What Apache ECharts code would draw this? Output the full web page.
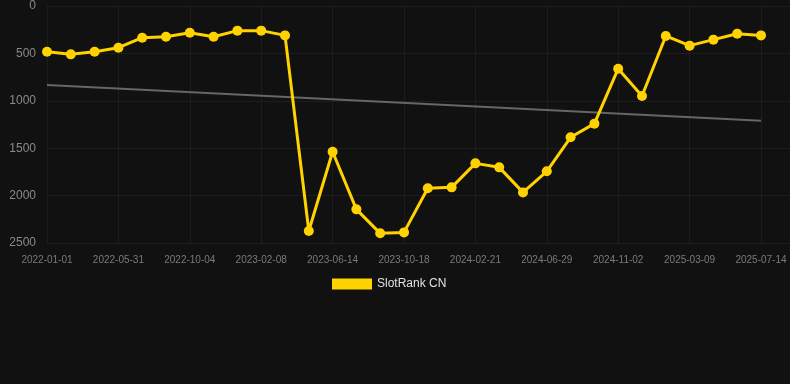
<!DOCTYPE html>
<html>
<head>
<meta charset="utf-8">
<script src="https://cdn.jsdelivr.net/npm/echarts@6/dist/echarts.min.js"></script>
<style>
  html, body { margin: 0; padding: 0; background: #111111; }
  #chart { width: 790px; height: 384px; }
</style>
</head>
<body>
<div id="chart"></div>
<script>
const dates = [
  '2022-01-01', '2022-03-08', '2022-04-19', '2022-05-31', '2022-07-12', '2022-08-23',
  '2022-10-04', '2022-11-15', '2022-12-28', '2023-02-08', '2023-03-22', '2023-05-03',
  '2023-06-14', '2023-07-26', '2023-09-06', '2023-10-18', '2023-11-29', '2024-01-10',
  '2024-02-21', '2024-04-03', '2024-05-17', '2024-06-29', '2024-08-10', '2024-09-21',
  '2024-11-02', '2024-12-14', '2025-01-26', '2025-03-09', '2025-04-20', '2025-06-02',
  '2025-07-14'
]
const rankCN = [
  482, 510, 482, 440, 334, 324, 282, 324, 260, 260, 310,
  2373, 1537, 2145, 2398, 2388, 1923, 1913, 1660, 1702, 1966,
  1744, 1385, 1241, 661, 949, 316, 418, 355, 292, 310
]
const trend = [
  833, null, null, null, null, null, null, null, null, null, null,
  null, null, null, null, null, null, null, null, null, null,
  null, null, null, null, null, null, null, null, null, 1210
]
const yTicks = { min: 0, max: 2500, interval: 500 }

const gridLine = '#1d1d1d'
const font = 'Arial, Liberation Sans, sans-serif'

const chart = echarts.init(document.getElementById('chart'))

chart.setOption({
  backgroundColor: '#111111',
  animation: false,
  grid: [
    { left: 47, right: 29, top: 6, bottom: 141 },
    // horizontal guide lines run on to the right edge
    { left: 47, right: 0, top: 6, bottom: 141 }
  ],
  legend: {
    data: ['SlotRank CN'],
    bottom: 89,
    left: 327,
    itemWidth: 40,
    itemHeight: 11,
    icon: 'rect',
    textStyle: { color: '#e0e0e0', fontSize: 12, fontFamily: font }
  },
  xAxis: [
    {
      type: 'category',
      gridIndex: 0,
      boundaryGap: false,
      data: dates,
      axisLine: { show: false },
      axisTick: { show: false },
      axisLabel: { color: '#7a7a7a', fontSize: 10, interval: 2, margin: 12, fontFamily: font },
      splitLine: { show: true, interval: 2, lineStyle: { color: gridLine, width: 1 } }
    },
    { type: 'value', gridIndex: 1, show: false }
  ],
  yAxis: [
    {
      type: 'value',
      gridIndex: 0,
      inverse: true,
      min: yTicks.min,
      max: yTicks.max,
      interval: yTicks.interval,
      axisLine: { show: false },
      axisTick: { show: false },
      axisLabel: {
        color: '#8a8a8a', fontSize: 12, margin: 11, fontFamily: font,
        formatter: v => String(v)
      },
      splitLine: { show: false }
    },
    {
      type: 'value',
      gridIndex: 1,
      inverse: true,
      min: yTicks.min,
      max: yTicks.max,
      interval: yTicks.interval,
      axisLine: { show: false },
      axisTick: { show: false },
      axisLabel: { show: false },
      splitLine: { lineStyle: { color: gridLine, width: 1 } }
    }
  ],
  series: [
    {
      name: 'trend',
      type: 'line',
      data: trend,
      connectNulls: true,
      symbol: 'none',
      silent: true,
      lineStyle: { color: '#666666', width: 2 },
      z: 1
    },
    {
      name: 'SlotRank CN',
      type: 'line',
      data: rankCN,
      symbol: 'circle',
      symbolSize: 10,
      itemStyle: { color: '#FFD200' },
      lineStyle: { color: '#FFD200', width: 3 },
      z: 2
    }
  ]
})
</script>
</body>
</html>
